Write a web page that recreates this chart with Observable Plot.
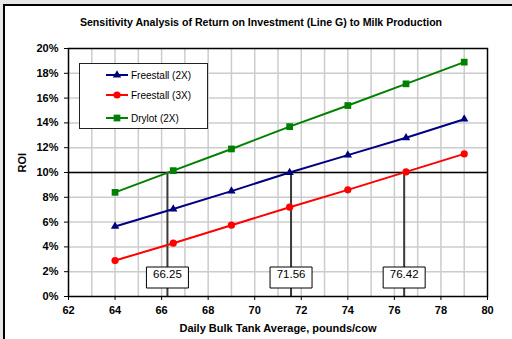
<!DOCTYPE html>
<html>
<head>
<meta charset="utf-8">
<script src="https://cdn.jsdelivr.net/npm/d3@7"></script>
<script src="https://cdn.jsdelivr.net/npm/@observablehq/plot@0.6"></script>
<style>
  html, body { margin: 0; padding: 0; background: #e6e6e6; }
  body { width: 512px; height: 339px; position: relative; overflow: hidden;
         font-family: "Liberation Sans", Arial, sans-serif; }
  #panel { position: absolute; left: 3px; top: 4px; width: 540px; height: 360px;
           background: #fff; border-left: 2px solid #000; border-top: 2px solid #000; }
  #title { position: absolute; left: 0; width: 522px; top: 16px; text-align: center;
           font-weight: bold; font-size: 10.6px; color: #000; }
  #chart { position: absolute; left: 0; top: 0; }
  #legend { position: absolute; left: 79px; top: 63px; width: 127px; height: 64px;
            background: #fff; border: 1px solid #222; font-size: 10px; }
  .item { position: absolute; left: 26px; height: 14px; display: flex; align-items: center; }
  .item svg { margin-right: 3px; }
</style>
</head>
<body>
<div id="panel"></div>
<div id="chart"></div>
<div id="title">Sensitivity Analysis of Return on Investment (Line G) to Milk Production</div>
<div id="legend"></div>
<script>
// Daily bulk tank average (pounds/cow) at which ROI was evaluated
const milk = [64, 66.5, 69, 71.5, 74, 76.5, 79];

// ROI (%) for each housing system
const freestall2x = [5.65, 7.05, 8.5, 10.0, 11.4, 12.8, 14.3];
const freestall3x = [2.9, 4.3, 5.75, 7.2, 8.6, 10.05, 11.5];
const drylot2x = [8.4, 10.15, 11.9, 13.7, 15.4, 17.15, 18.9];

const seriesNames = ["Freestall (2X)", "Freestall (3X)", "Drylot (2X)"];
const seriesColors = ["#000080", "#ff0000", "#008000"];
const seriesSymbols = ["triangle", "circle", "square"];
const seriesRadius = [3.1, 3.6, 3.8];

// Milk production needed to reach the 10% ROI target
const target = 10;
const breakEven = [66.25, 71.56, 76.42];

const xTicks = [62, 64, 66, 68, 70, 72, 74, 76, 78, 80];
const yTicks = [0, 2, 4, 6, 8, 10, 12, 14, 16, 18, 20];
const xLabel = "Daily Bulk Tank Average, pounds/cow";
const yLabel = "ROI";

const seriesValues = [freestall2x, freestall3x, drylot2x];
const rows = seriesValues.flatMap((vals, i) =>
  vals.map((v, j) => ({series: seriesNames[i], milk: milk[j], roi: v}))
);

const gridStyle = {stroke: "#cccccc", strokeOpacity: 1, strokeWidth: 1.5};

// Rectangular call-out box drawn around the break-even labels
const calloutBox = {draw(ctx) { ctx.rect(-21, -10.5, 42, 21); }};

const marks = [
  Plot.gridX(d3.range(63, 80), gridStyle),
  Plot.gridY(yTicks.filter(d => d > 0 && d < 20), gridStyle),
  Plot.ruleY([target], {stroke: "#000", strokeWidth: 1.5}),
  Plot.ruleX(breakEven, {x: d => d, y1: 0, y2: target, stroke: "#3a3a3a", strokeWidth: 2}),
  Plot.frame({stroke: "#000", strokeWidth: 1.5}),
  Plot.axisX({ticks: xTicks, tickSize: 4, tickPadding: 6, fontWeight: "bold", fontSize: 11, label: null}),
  Plot.axisY({ticks: yTicks, tickSize: 4, tickPadding: 6, fontWeight: "bold", fontSize: 11,
              tickFormat: d => d + "%", label: null}),
  Plot.text([xLabel], {frameAnchor: "bottom", dy: 35, text: d => d, fontWeight: "bold", fontSize: 11}),
  Plot.text([yLabel], {frameAnchor: "left", dx: -46, rotate: -90, text: d => d, fontWeight: "bold", fontSize: 11})
];

seriesNames.forEach((name, i) => {
  const data = rows.filter(r => r.series === name);
  marks.push(
    Plot.line(data, {x: "milk", y: "roi", stroke: seriesColors[i], strokeWidth: 2}),
    Plot.dot(data, {x: "milk", y: "roi", symbol: seriesSymbols[i], r: seriesRadius[i],
                    fill: seriesColors[i], stroke: "none"})
  );
});

marks.push(
  Plot.dot(breakEven, {x: d => d, frameAnchor: "bottom", dy: -19, symbol: calloutBox,
                       fill: "#fff", stroke: "#000", strokeWidth: 1}),
  Plot.text(breakEven, {x: d => d, frameAnchor: "bottom", dy: -19, text: d => d.toFixed(2),
                        fontSize: 11.5, fill: "#000"})
);

const chart = Plot.plot({
  width: 512,
  height: 339,
  marginLeft: 68,
  marginRight: 25,
  marginTop: 48,
  marginBottom: 43,
  style: {background: "transparent", fontFamily: "'Liberation Sans', Arial, sans-serif",
          fontSize: "11px", color: "#000", overflow: "visible"},
  x: {domain: [62, 80]},
  y: {domain: [0, 20]},
  marks
});
document.getElementById("chart").appendChild(chart);

// Legend: line-and-marker swatch followed by the series name
const legend = d3.select("#legend");
const rowTops = [4, 24, 47];
seriesNames.forEach((name, i) => {
  const item = legend.append("div").attr("class", "item").style("top", rowTops[i] + "px");
  const sw = item.append("svg").attr("width", 22).attr("height", 14);
  sw.append("line").attr("x1", 0).attr("x2", 22).attr("y1", 7).attr("y2", 7)
    .attr("stroke", seriesColors[i]).attr("stroke-width", 2);
  sw.append("path")
    .attr("transform", "translate(11,7)")
    .attr("d", d3.symbol(
      {triangle: d3.symbolTriangle, circle: d3.symbolCircle, square: d3.symbolSquare}[seriesSymbols[i]],
      Math.PI * seriesRadius[i] ** 2)())
    .attr("fill", seriesColors[i]);
  item.append("span").text(name);
});
</script>
</body>
</html>
